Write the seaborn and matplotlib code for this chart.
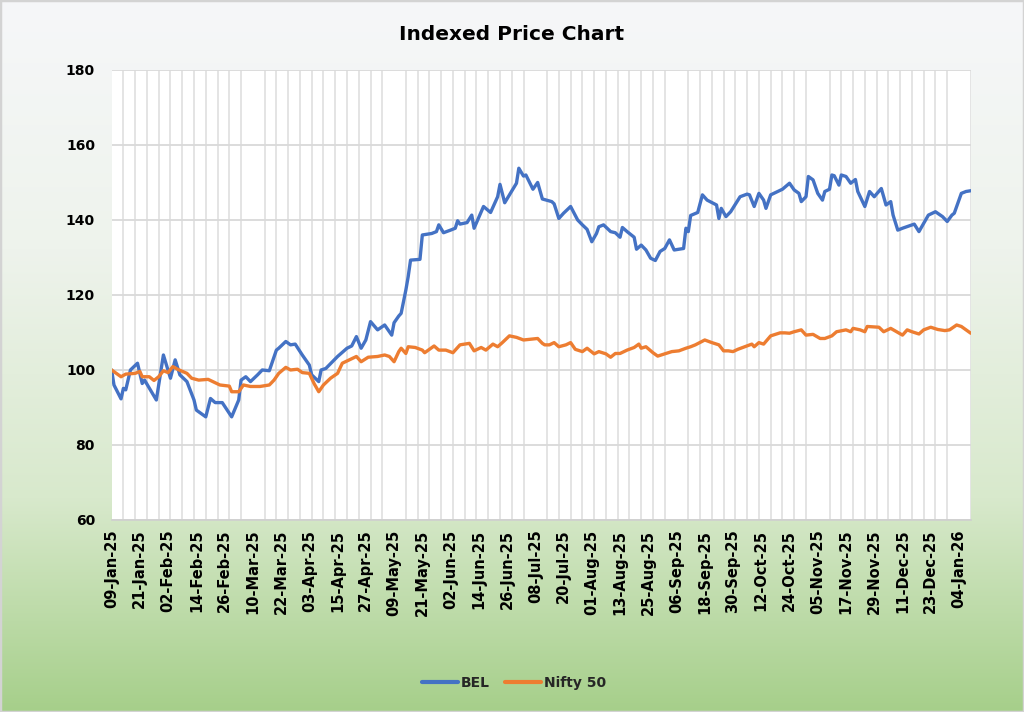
import numpy as np
import pandas as pd
import matplotlib
matplotlib.use("Agg")
import matplotlib.pyplot as plt
import matplotlib.dates as mdates
from matplotlib.lines import Line2D
from matplotlib.patches import Rectangle
import seaborn as sns

# ---------------- data ----------------
title = "Indexed Price Chart"
start_date = "2025-01-09"
end_date = "2026-01-09"
series_names = ["BEL", "Nifty 50"]
series_colors = ["#4472C4", "#ED7D31"]

# days since 09-Jan-25, and indexed value (start = 100)
bel_day = [0, 1, 4, 5, 6, 8, 11, 13, 14, 19, 22, 25, 27, 29, 32, 35, 36, 40, 42, 44,
           47, 51, 54, 55, 57, 59, 62, 64, 67, 70, 71, 74, 76, 78, 81, 83, 84, 85, 88, 89,
           91, 96, 100, 102, 104, 106, 108, 110, 113, 116, 119, 120, 122, 123, 125, 126, 127, 131, 132, 136,
           138, 139, 141, 144, 146, 147, 148, 151, 153, 154, 158, 161, 164, 165, 167, 169, 172, 173, 175, 176,
           179, 181, 183, 187, 188, 190, 192, 195, 198, 200, 202, 204, 206, 207, 209, 212, 214, 216, 217, 219,
           222, 223, 225, 227, 229, 231, 233, 235, 237, 239, 243, 244, 245, 246, 249, 251, 253, 257, 258, 259,
           261, 263, 267, 270, 271, 273, 275, 277, 278, 280, 285, 288, 290, 292, 293, 295, 296, 298, 300, 302,
           303, 305, 306, 307, 309, 310, 312, 314, 316, 317, 320, 322, 324, 327, 329, 331, 332, 334, 336, 341,
           343, 345, 347, 350, 353, 355, 357, 358, 361, 363, 365]
bel_value = [100.0, 96.0, 92.3, 95.1, 94.7, 100.0, 101.8, 96.4, 97.3, 92.0, 104.0, 97.8, 102.7, 98.7, 96.9, 92.0, 89.3, 87.5, 92.4, 91.3,
             91.3, 87.5, 92.0, 97.3, 98.2, 96.9, 98.7, 100.0, 99.8, 105.3, 105.8, 107.6, 106.7, 106.9, 104.0, 102.2, 101.3, 98.7, 96.9, 100.0,
             100.4, 103.6, 105.8, 106.4, 108.9, 105.8, 108.0, 112.9, 110.7, 112.0, 109.3, 112.6, 114.4, 115.1, 121.3, 124.9, 129.3, 129.5, 136.0, 136.4,
             136.9, 138.7, 136.6, 137.3, 137.8, 139.8, 138.9, 139.3, 141.3, 137.8, 143.6, 142.0, 146.2, 149.5, 144.6, 146.7, 149.8, 153.8, 151.7, 152.0,
             148.2, 150.0, 145.6, 144.9, 144.3, 140.4, 141.8, 143.6, 140.0, 138.7, 137.5, 134.2, 136.4, 138.2, 138.7, 136.9, 136.6, 135.4, 138.0, 136.9,
             135.4, 132.2, 133.3, 132.0, 129.8, 129.2, 131.6, 132.4, 134.7, 132.0, 132.4, 137.8, 136.9, 141.2, 142.0, 146.7, 145.3, 144.0, 140.4, 143.1,
             140.9, 142.2, 146.2, 146.9, 146.7, 143.6, 147.1, 145.3, 143.1, 146.7, 148.2, 149.8, 148.0, 147.1, 144.9, 146.2, 151.6, 150.7, 147.1, 145.3,
             147.6, 148.2, 152.0, 151.8, 149.3, 152.0, 151.6, 149.8, 150.8, 147.6, 143.6, 147.6, 146.2, 148.4, 144.0, 144.9, 141.3, 137.3, 137.8, 138.9,
             136.9, 139.1, 141.3, 142.2, 140.9, 139.6, 141.3, 141.8, 147.1, 147.6, 147.8]

nifty_day = [0, 2, 4, 6, 10, 12, 13, 16, 18, 20, 22, 24, 26, 28, 32, 34, 37, 41, 43, 46,
             50, 51, 54, 56, 59, 63, 67, 69, 71, 74, 76, 79, 81, 84, 86, 88, 90, 93, 96, 98,
             101, 104, 106, 109, 113, 116, 118, 120, 122, 123, 125, 126, 129, 132, 133, 137, 139, 142, 145, 148,
             152, 154, 157, 159, 162, 164, 166, 169, 172, 175, 178, 181, 183, 184, 186, 188, 190, 193, 195, 197,
             200, 202, 205, 207, 210, 212, 214, 216, 219, 222, 224, 225, 227, 230, 232, 235, 238, 241, 244, 246,
             248, 252, 255, 258, 260, 262, 264, 266, 269, 272, 273, 275, 277, 280, 284, 286, 288, 290, 293, 295,
             298, 301, 303, 306, 308, 312, 314, 315, 318, 320, 321, 326, 328, 331, 336, 338, 340, 343, 345, 348,
             351, 354, 356, 359, 361, 363, 365]
nifty_value = [100.0, 99.1, 98.2, 98.9, 99.1, 99.6, 98.2, 98.2, 97.2, 98.2, 99.8, 99.3, 100.9, 100.2, 99.1, 97.8, 97.3, 97.5, 96.9, 96.0,
               95.7, 94.2, 94.2, 96.0, 95.6, 95.6, 96.0, 97.3, 99.1, 100.7, 100.0, 100.2, 99.3, 99.1, 96.4, 94.2, 96.0, 97.8, 99.1, 101.8,
               102.7, 103.6, 102.2, 103.4, 103.6, 104.0, 103.6, 102.2, 104.9, 105.8, 104.4, 106.2, 106.0, 105.3, 104.6, 106.4, 105.3, 105.3, 104.6, 106.7,
               107.1, 105.1, 106.0, 105.3, 106.9, 106.2, 107.3, 109.1, 108.7, 108.0, 108.2, 108.4, 107.1, 106.7, 106.7, 107.3, 106.2, 106.7, 107.3, 105.5,
               104.9, 105.8, 104.3, 104.9, 104.3, 103.4, 104.4, 104.4, 105.3, 106.0, 106.9, 105.8, 106.2, 104.6, 103.7, 104.3, 104.9, 105.1, 105.8, 106.2,
               106.7, 108.0, 107.3, 106.7, 105.1, 105.1, 104.9, 105.5, 106.2, 106.9, 106.2, 107.3, 106.9, 109.1, 109.9, 109.9, 109.8, 110.2, 110.7, 109.3,
               109.5, 108.4, 108.4, 109.1, 110.2, 110.7, 110.2, 111.1, 110.7, 110.2, 111.6, 111.4, 110.2, 111.1, 109.3, 110.7, 110.2, 109.6, 110.7, 111.4,
               110.8, 110.5, 110.7, 112.0, 111.6, 110.7, 109.8]

y_ticks = [60, 80, 100, 120, 140, 160, 180]
label_step_days = 12
grid_step_days = 5

# ---------------- build frame ----------------
start = pd.Timestamp(start_date)
end = pd.Timestamp(end_date)
df = pd.concat([
    pd.DataFrame({"date": start + pd.to_timedelta(bel_day, unit="D"),
                  "value": bel_value, "series": series_names[0]}),
    pd.DataFrame({"date": start + pd.to_timedelta(nifty_day, unit="D"),
                  "value": nifty_value, "series": series_names[1]}),
], ignore_index=True)

sns.set_theme(style="white")
plt.rcParams["font.family"] = ["DejaVu Sans"]

fig = plt.figure(figsize=(10.24, 7.12), dpi=100)

# gradient background
bg = fig.add_axes([0, 0, 1, 1], zorder=-10)
stops = np.array([0.0, 0.35, 0.70, 1.0])
cols = np.array([[246, 247, 249], [238, 243, 236], [216, 233, 204], [166, 207, 138]]) / 255.0
yy = np.linspace(0, 1, 400)
grad = np.stack([np.interp(yy, stops, cols[:, k]) for k in range(3)], axis=1)
grad = np.repeat(grad[:, None, :], 4, axis=1)
bg.imshow(grad, aspect="auto", extent=[0, 1, 0, 1], origin="upper")
bg.set_axis_off()

ax = fig.add_axes([0.109, 0.2697, 0.839, 0.632])
ax.set_facecolor("white")
sns.lineplot(data=df, x="date", y="value", hue="series", hue_order=series_names,
             palette=series_colors, linewidth=2.4, estimator=None, legend=False, ax=ax)
for ln in ax.get_lines():
    ln.set_solid_joinstyle("round")
    ln.set_solid_capstyle("round")

ax.set_xlim(start, end)
ax.set_ylim(y_ticks[0], y_ticks[-1])
ax.set_yticks(y_ticks)
major = pd.date_range(start, end, freq=f"{label_step_days}D")
minor = pd.date_range(start, end, freq=f"{grid_step_days}D")
ax.set_xticks(major)
ax.set_xticks(minor, minor=True)
ax.xaxis.set_major_formatter(mdates.DateFormatter("%d-%b-%y"))

ax.grid(False)
ax.grid(axis="x", which="minor", color="#e2e2e2", linewidth=1.3)
ax.grid(axis="y", which="major", color="#d9d9d9", linewidth=1.3)
ax.set_axisbelow(True)
ax.tick_params(axis="x", which="minor", length=0)
ax.tick_params(axis="x", which="major", length=5, width=1, color="#bfbfbf",
               rotation=90, labelsize=10.5, pad=2)
ax.tick_params(axis="y", length=0, labelsize=10, pad=12)
for lbl in ax.get_xticklabels() + ax.get_yticklabels():
    lbl.set_fontweight("bold")
    lbl.set_color("black")

for s in ["top", "right", "left"]:
    ax.spines[s].set_visible(False)
ax.spines["bottom"].set_color("#cfcfcf")
ax.spines["bottom"].set_linewidth(1.2)
ax.set_xlabel("")
ax.set_ylabel("")

fig.text(0.5, 1 - 34 / 712, title, ha="center", va="center",
         fontsize=14.5, fontweight="bold", color="black")

handles = [Line2D([0], [0], color=c, lw=3) for c in series_colors]
fig.legend(handles, series_names, loc="center", bbox_to_anchor=(0.502, 1 - 683 / 712),
           ncol=2, frameon=False, prop={"weight": "bold", "size": 10},
           handlelength=2.6, columnspacing=1.1, handletextpad=0.2)

fig.patches.append(Rectangle((0, 0), 1, 1, transform=fig.transFigure, fill=False,
                             edgecolor="#d3d3d3", linewidth=2.5))

fig.savefig("out.png", dpi=100)
